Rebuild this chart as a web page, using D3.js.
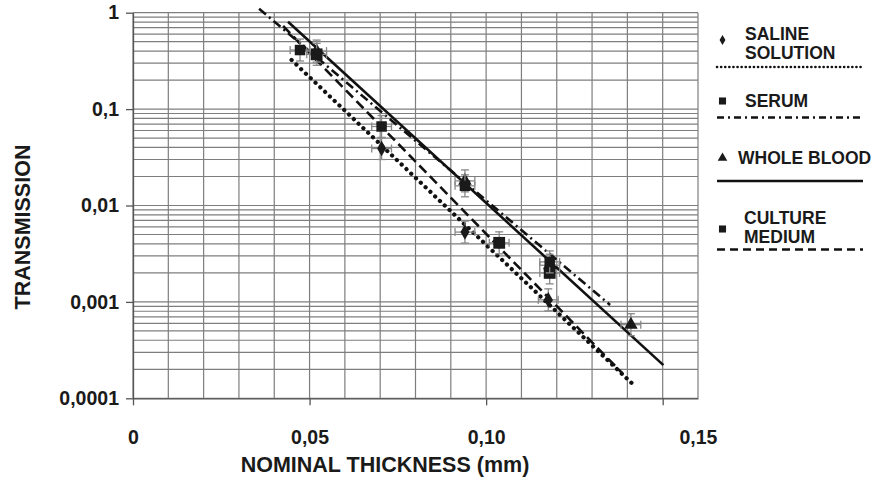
<!DOCTYPE html>
<html>
<head>
<meta charset="utf-8">
<script src="https://cdn.jsdelivr.net/npm/d3@7"></script>
<style>
  body { margin: 0; background: #fff; }
  svg text { font-family: "Liberation Sans", Arial, sans-serif; font-weight: bold; fill: #1a1a1a; }
</style>
</head>
<body>
<div id="root"></div>
<script>
const width = 875;
const height = 480;

// measured points (thickness in mm, transmission)
const salineX = [0.0704, 0.094, 0.1176];
const salineY = [0.039, 0.0053, 0.00105];
const serumX = [0.0473, 0.0704, 0.094, 0.118];
const serumY = [0.41, 0.066, 0.016, 0.0026];
const bloodX = [0.052, 0.094, 0.118, 0.141];
const bloodY = [0.40, 0.018, 0.0024, 0.00058];
const cultureX = [0.052, 0.1037, 0.118];
const cultureY = [0.37, 0.0041, 0.0020];

// fitted lines, start and end
const salineFitX = [0.0449, 0.1413];
const salineFitY = [0.323, 0.000143];
const serumFitX = [0.0357, 0.1351];
const serumFitY = [1.1, 0.00093];
const bloodFitX = [0.0439, 0.1502];
const bloodFitY = [0.807, 0.000221];
const cultureFitX = [0.0425, 0.1385];
const cultureFitY = [0.728, 0.000183];

const yTicks = [0.0001, 0.001, 0.01, 0.1, 1];
const yTickLabels = ["0,0001", "0,001", "0,01", "0,1", "1"];
const xTicks = [0, 0.05, 0.10, 0.15];
const xTickLabels = ["0", "0,05", "0,10", "0,15"];

const xErr = 0.0028;
const yErr = 1.3;

var svg = d3.select("#root").append("svg")
  .attr("width", width)
  .attr("height", height);

var x = d3.scaleLinear().domain([0, 0.16]).range([133, 698]);
var y = d3.scaleLog().domain([0.0001, 1]).range([398.3, 12.7]);

// grid
var grid = svg.append("g").attr("stroke", "#7e7e7e").attr("stroke-width", 1.2);
grid.selectAll("line.h")
  .data(y.ticks())
  .enter().append("line")
  .attr("class", "h")
  .attr("x1", x(0)).attr("x2", x(0.16))
  .attr("y1", d => y(d)).attr("y2", d => y(d));
grid.selectAll("line.v")
  .data(d3.range(17).map(i => i / 100))
  .enter().append("line")
  .attr("class", "v")
  .attr("x1", d => x(d)).attr("x2", d => x(d))
  .attr("y1", y(1)).attr("y2", y(0.0001));

// axes
var yAxis = svg.append("g")
  .attr("transform", "translate(" + x(0) + ",0)")
  .call(d3.axisLeft(y).tickValues(yTicks).tickSize(7).tickSizeOuter(0)
    .tickFormat((d, i) => yTickLabels[i]));
yAxis.selectAll("text").attr("x", -14).style("font-size", "19.5px");

var xAxis = svg.append("g")
  .attr("transform", "translate(0," + y(0.0001) + ")")
  .call(d3.axisBottom(x).tickValues(xTicks).tickSize(7).tickSizeOuter(0)
    .tickFormat((d, i) => xTickLabels[i]));
xAxis.selectAll("text").attr("y", 32).attr("dy", "0.71em").style("font-size", "19.5px");
// last label sits at the right edge of the plot in the original
xAxis.selectAll(".tick").filter(d => d === 0.15).select("text").attr("x", x(0.16) - x(0.15));
svg.selectAll(".domain, .tick line").attr("stroke", "#555").attr("stroke-width", 1.3);

svg.append("text")
  .attr("x", 385).attr("y", 472)
  .attr("text-anchor", "middle")
  .style("font-size", "21.5px")
  .text("NOMINAL THICKNESS (mm)");

svg.append("text")
  .attr("transform", "translate(30,227) rotate(-90)")
  .attr("text-anchor", "middle")
  .style("font-size", "21.5px")
  .text("TRANSMISSION");

// fitted lines
var line = d3.line().x(d => x(d[0])).y(d => y(d[1]));
const lineStyles = {
  saline: { dash: "0.1 6.5", w: 4.2, cap: "round" },
  serum: { dash: "9 4 2 4", w: 2.6, cap: "butt" },
  blood: { dash: null, w: 2.6, cap: "butt" },
  culture: { dash: "10 5", w: 2.6, cap: "butt" }
};
const fits = [
  { key: "saline", xs: salineFitX, ys: salineFitY },
  { key: "serum", xs: serumFitX, ys: serumFitY },
  { key: "blood", xs: bloodFitX, ys: bloodFitY },
  { key: "culture", xs: cultureFitX, ys: cultureFitY }
];
svg.append("g").selectAll("path")
  .data(fits)
  .enter().append("path")
  .attr("d", d => line(d.xs.map((v, i) => [v, d.ys[i]])))
  .attr("fill", "none")
  .attr("stroke", "#111")
  .attr("stroke-width", d => lineStyles[d.key].w)
  .attr("stroke-linecap", d => lineStyles[d.key].cap)
  .attr("stroke-dasharray", d => lineStyles[d.key].dash);

// points with error bars
const series = [
  { xs: salineX, ys: salineY, sym: d3.symbolDiamond, size: 70 },
  { xs: bloodX, ys: bloodY, sym: d3.symbolTriangle, size: 80 },
  { xs: cultureX, ys: cultureY, sym: d3.symbolSquare, size: 140 },
  { xs: serumX, ys: serumY, sym: d3.symbolSquare, size: 110 }
];
var pts = svg.append("g");
series.forEach(s => {
  var data = s.xs.map((v, i) => [v, s.ys[i]]);
  var g = pts.append("g");
  var eb = g.selectAll("g.eb").data(data).enter().append("g")
    .attr("stroke", "#888").attr("stroke-width", 1.3);
  eb.append("line")
    .attr("x1", d => x(d[0] - xErr)).attr("x2", d => x(d[0] + xErr))
    .attr("y1", d => y(d[1])).attr("y2", d => y(d[1]));
  eb.append("line")
    .attr("x1", d => x(d[0])).attr("x2", d => x(d[0]))
    .attr("y1", d => y(d[1] * yErr)).attr("y2", d => y(d[1] / yErr));
  [-1, 1].forEach(sg => {
    eb.append("line")
      .attr("x1", d => x(d[0] + sg * xErr)).attr("x2", d => x(d[0] + sg * xErr))
      .attr("y1", d => y(d[1]) - 4).attr("y2", d => y(d[1]) + 4);
    eb.append("line")
      .attr("x1", d => x(d[0]) - 4).attr("x2", d => x(d[0]) + 4)
      .attr("y1", d => y(sg > 0 ? d[1] * yErr : d[1] / yErr))
      .attr("y2", d => y(sg > 0 ? d[1] * yErr : d[1] / yErr));
  });
  g.selectAll("path").data(data).enter().append("path")
    .attr("d", d3.symbol().type(s.sym).size(s.size))
    .attr("transform", d => "translate(" + x(d[0]) + "," + y(d[1]) + ")")
    .attr("fill", "#1a1a1a");
});

// legend
const legendItems = [
  { lines: ["SALINE", "SOLUTION"], sym: d3.symbolDiamond, size: 30, symY: 40, textX: 745, textY: 40, lineY: 67, key: "saline" },
  { lines: ["SERUM"], sym: d3.symbolSquare, size: 50, symY: 101, textX: 745, textY: 107, lineY: 117.5, key: "serum" },
  { lines: ["WHOLE BLOOD"], sym: d3.symbolTriangle, size: 40, symY: 158, textX: 738, textY: 164, lineY: 181, key: "blood" },
  { lines: ["CULTURE", "MEDIUM"], sym: d3.symbolSquare, size: 50, symY: 229, textX: 744, textY: 224, lineY: 249.5, key: "culture" }
];
const legendDash = { saline: "0.1 4", serum: "7 4 2 4", blood: null, culture: "8 5" };
var legend = svg.append("g");
legendItems.forEach(it => {
  legend.append("path")
    .attr("d", d3.symbol().type(it.sym).size(it.size))
    .attr("transform", "translate(722.5," + it.symY + ")")
    .attr("fill", "#1a1a1a");
  var t = legend.append("text")
    .attr("x", it.textX).attr("y", it.textY)
    .style("font-size", "17.5px");
  it.lines.forEach((s, i) => {
    t.append("tspan").attr("x", it.textX).attr("dy", i === 0 ? 0 : 18.5).text(s);
  });
  legend.append("line")
    .attr("x1", 717).attr("x2", 863)
    .attr("y1", it.lineY).attr("y2", it.lineY)
    .attr("stroke", "#111")
    .attr("stroke-width", it.key === "saline" ? 2.6 : 2.4)
    .attr("stroke-linecap", it.key === "saline" ? "round" : "butt")
    .attr("stroke-dasharray", legendDash[it.key]);
});
</script>
</body>
</html>
